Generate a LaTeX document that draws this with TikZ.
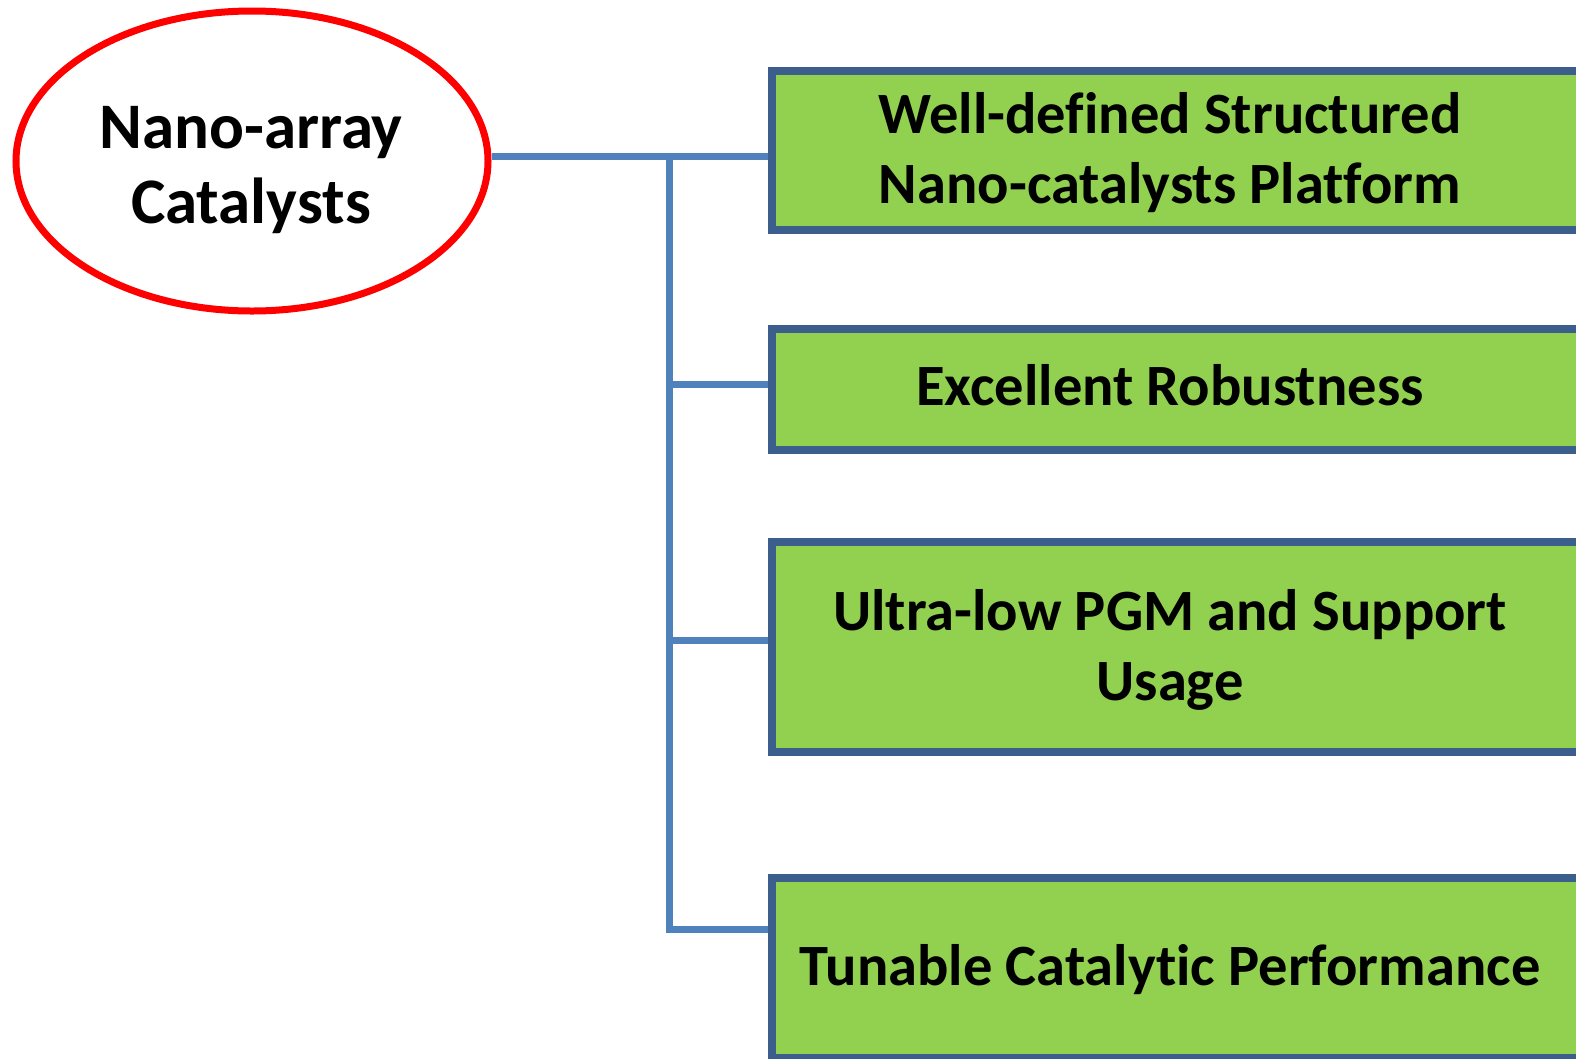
\documentclass[tikz,border=0pt]{standalone}
\usepackage{fontspec}
\setmainfont{Carlito}[Ligatures={NoCommon,NoContextual}]
\usetikzlibrary{shapes.geometric}

\definecolor{leafgreen}{HTML}{92D050}
\definecolor{frameblue}{HTML}{3B5E8C}
\definecolor{linkblue}{HTML}{4F81BD}

\tikzstyle{block} = [draw=frameblue, fill=leafgreen, rectangle, line width=8pt,
    anchor=north west, minimum width=900pt, inner sep=0pt]
\tikzstyle{blocktext} = [font=\fontsize{58.5}{70}\selectfont\bfseries, align=center, inner sep=0pt]
\tikzstyle{hub} = [draw=red, ellipse, line width=7pt, minimum width=472pt,
    minimum height=300pt, inner sep=0pt]
\tikzstyle{link} = [draw=linkblue, line width=7pt]

\begin{document}
\begin{tikzpicture}[x=1pt, y=-1pt]
    \useasboundingbox (0,0) rectangle (1576,1058);
    \clip (0,0) rectangle (1576,1058);

    \node [hub] (core) at (252,161) {};
    \node [blocktext, font=\fontsize{65}{75}\selectfont\bfseries] (coretext) at (251,170) {Nano-array\\Catalysts};

    \node [block, minimum height=159pt] (well) at (768,67) {};
    \node [block, minimum height=121pt] (robust) at (768,325) {};
    \node [block, minimum height=210pt] (usage) at (768,538) {};
    \node [block, minimum height=180pt] (tune) at (768,874) {};

    \node [blocktext] (welltext) at (1170,153) {Well-defined Structured\\Nano-catalysts Platform};
    \node [blocktext, anchor=base] (robusttext) at (1170,405) {Excellent Robustness};
    \node [blocktext] (usagetext) at (1170,650) {Ultra-low PGM and Support\\Usage};
    \node [blocktext, anchor=base] (tunetext) at (1170,985) {Tunable Catalytic Performance};

    \coordinate (j1) at (669,156);
    \coordinate (j2) at (669,384);
    \coordinate (j3) at (669,640);
    \coordinate (j4) at (669,929);

    \draw [link] (core.east |- j1) -- (j1 -| well.west);
    \draw [link] (j1) -- (j4) -- (j4 -| tune.west);
    \draw [link] (j2) -- (j2 -| robust.west);
    \draw [link] (j3) -- (j3 -| usage.west);
\end{tikzpicture}
\end{document}
